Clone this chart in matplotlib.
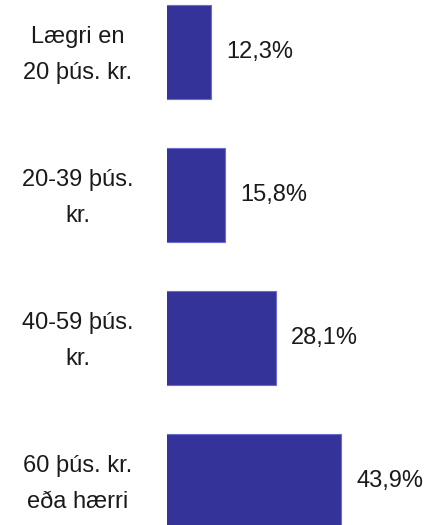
import matplotlib
matplotlib.use('Agg')
import matplotlib.pyplot as plt
from matplotlib.transforms import blended_transform_factory

categories = ['Lægri en\n20 þús. kr.', '20-39 þús.\nkr.', '40-59 þús.\nkr.', '60 þús. kr.\neða hærri']
values = [12.3, 15.8, 28.1, 43.9]

plt.rcParams['font.family'] = ['Liberation Sans', 'DejaVu Sans']

fig = plt.figure(figsize=(4.31, 5.25), dpi=100)
ax = fig.add_axes([167 / 431, 0, 264 / 431, 1])

pos = list(range(len(values)))
ax.barh(pos, values, height=0.66, color='#333399', edgecolor='#6a6ad0', linewidth=0.8)

# value axis does not start at the bars' visible left edge
ax.set_xlim(1.6, 1.6 + 264 / 4.11)
ax.set_ylim((525 - 52) / 143, -52 / 143)

for p, v in zip(pos, values):
    ax.text(v + 3.7, p, f'{v:.1f}'.replace('.', ',') + '%', va='center', ha='left',
            fontsize=17, color='#1a1a1a')

# category labels to the left of the bars (x in figure coords)
tr = blended_transform_factory(fig.transFigure, ax.transData)
for p, c in zip(pos, categories):
    ax.text(78 / 431, p + 0.02, c, transform=tr, ha='center', va='center', multialignment='center',
            fontsize=17, color='#1a1a1a', linespacing=1.85, clip_on=False)

ax.axis('off')
fig.savefig('out.png', dpi=100)
